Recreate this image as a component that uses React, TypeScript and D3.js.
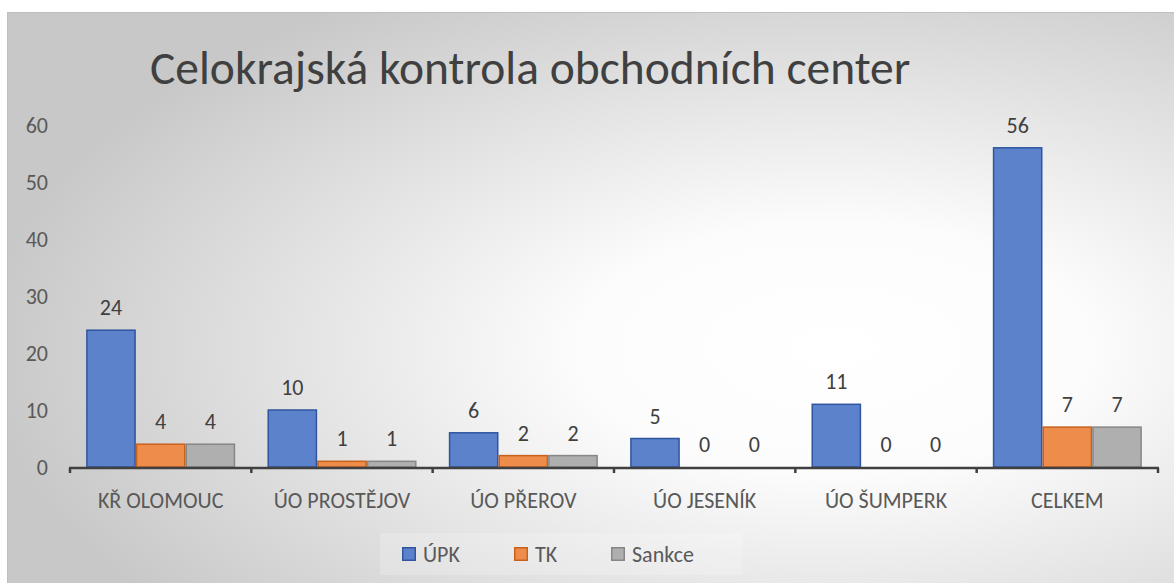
import React, { useEffect, useRef } from 'react';
import * as d3 from 'd3';

const categories = ['KŘ OLOMOUC', 'ÚO PROSTĚJOV', 'ÚO PŘEROV', 'ÚO JESENÍK', 'ÚO ŠUMPERK', 'CELKEM'];
const seriesNames = ['ÚPK', 'TK', 'Sankce'];
const upk = [24, 10, 6, 5, 11, 56];
const tk = [4, 1, 2, 0, 0, 7];
const sankce = [4, 1, 2, 0, 0, 7];
const yTicks = [0, 10, 20, 30, 40, 50, 60];

const fills = ['#5B82CA', '#EE8D4B', '#AFAFAF'];
const strokes = ['#2F55A0', '#C8611A', '#878787'];

const FONT = 'Carlito, Calibri, Lato, sans-serif';

const App = () => {
  const ref = useRef<SVGSVGElement>(null);

  useEffect(() => {
    const width = 1174;
    const height = 583;
    const svg = d3.select(ref.current);
    svg.selectAll('*').remove();
    svg.attr('width', width).attr('height', height);

    // background with radial gradient
    const defs = svg.append('defs');
    const grad = defs.append('radialGradient')
      .attr('id', 'bg')
      .attr('cx', 0.7).attr('cy', 0.58).attr('r', 0.72)
      .attr('fx', 0.7).attr('fy', 0.58);
    grad.append('stop').attr('offset', '0%').attr('stop-color', '#ffffff');
    grad.append('stop').attr('offset', '30%').attr('stop-color', '#fcfcfc');
    grad.append('stop').attr('offset', '100%').attr('stop-color', '#c8c8c8');

    svg.append('rect')
      .attr('x', 7.5).attr('y', 12.5)
      .attr('width', 1180).attr('height', 580)
      .attr('fill', 'url(#bg)')
      .attr('stroke', '#bfbfbf').attr('stroke-width', 1);

    const data = [upk, tk, sankce];

    const x0 = d3.scaleBand().domain(categories).range([70, 1158]).padding(0);
    const x1 = d3.scaleBand().domain(seriesNames).range([0, x0.bandwidth()])
      .paddingInner(0).paddingOuter(0.325);
    const y = d3.scaleLinear().domain([0, 60]).range([467, 125]);

    // title
    svg.append('text')
      .attr('x', 150).attr('y', 84)
      .attr('font-family', FONT).attr('font-size', 47.5)
      .attr('fill', '#404040')
      .text('Celokrajská kontrola obchodních center');

    // y labels
    svg.append('g')
      .selectAll('text')
      .data(yTicks)
      .join('text')
      .attr('x', 48).attr('y', d => y(d))
      .attr('dy', '0.35em')
      .attr('text-anchor', 'end')
      .attr('font-family', FONT).attr('font-size', 22)
      .attr('fill', '#595959')
      .text(d => d);

    // bars
    const groups = svg.append('g')
      .selectAll('g')
      .data(categories)
      .join('g')
      .attr('transform', d => `translate(${x0(d)},0)`);

    groups.selectAll('rect')
      .data((_, i) => seriesNames.map((s, k) => ({ s, k, v: data[k][i] })))
      .join('rect')
      .filter(d => d.v > 0)
      .attr('x', d => x1(d.s)! + 0.75)
      .attr('y', d => y(d.v))
      .attr('width', x1.bandwidth() - 1.5)
      .attr('height', d => y(0) - y(d.v))
      .attr('fill', d => fills[d.k])
      .attr('stroke', d => strokes[d.k])
      .attr('stroke-width', 1.5);

    groups.selectAll('text')
      .data((_, i) => seriesNames.map((s, k) => ({ s, k, v: data[k][i] })))
      .join('text')
      .attr('x', d => x1(d.s)! + x1.bandwidth() / 2)
      .attr('y', d => y(d.v) - 15)
      .attr('text-anchor', 'middle')
      .attr('font-family', FONT).attr('font-size', 22)
      .attr('fill', '#404040')
      .text(d => d.v);

    // x axis
    const axisG = svg.append('g');
    axisG.append('line')
      .attr('x1', 69).attr('x2', 1159)
      .attr('y1', 468).attr('y2', 468)
      .attr('stroke', '#404040').attr('stroke-width', 2.5);
    const edges = [...categories.map(c => x0(c)!), x0.range()[1]];
    axisG.selectAll('.tick')
      .data(edges)
      .join('line')
      .attr('x1', d => d).attr('x2', d => d)
      .attr('y1', 468).attr('y2', 473)
      .attr('stroke', '#404040').attr('stroke-width', 2.5);

    axisG.selectAll('text')
      .data(categories)
      .join('text')
      .attr('x', d => x0(d)! + x0.bandwidth() / 2)
      .attr('y', 508)
      .attr('text-anchor', 'middle')
      .attr('font-family', FONT).attr('font-size', 22)
      .attr('fill', '#595959')
      .text(d => d);

    // legend
    const legend = svg.append('g');
    legend.append('rect')
      .attr('x', 380).attr('y', 533).attr('width', 362).attr('height', 42)
      .attr('fill', '#ffffff').attr('opacity', 0.2);
    const legendX = [402, 514, 611];
    seriesNames.forEach((s, k) => {
      legend.append('rect')
        .attr('x', legendX[k] + 0.75).attr('y', 547.75)
        .attr('width', 12.5).attr('height', 12.5)
        .attr('fill', fills[k]).attr('stroke', strokes[k]).attr('stroke-width', 1.5);
      legend.append('text')
        .attr('x', legendX[k] + 21).attr('y', 554)
        .attr('dy', '0.35em')
        .attr('font-family', FONT).attr('font-size', 22)
        .attr('fill', '#595959')
        .text(s);
    });
  }, []);

  return <svg ref={ref} style={{ position: 'absolute', left: 0, top: 0 }} />;
};

export default App;
